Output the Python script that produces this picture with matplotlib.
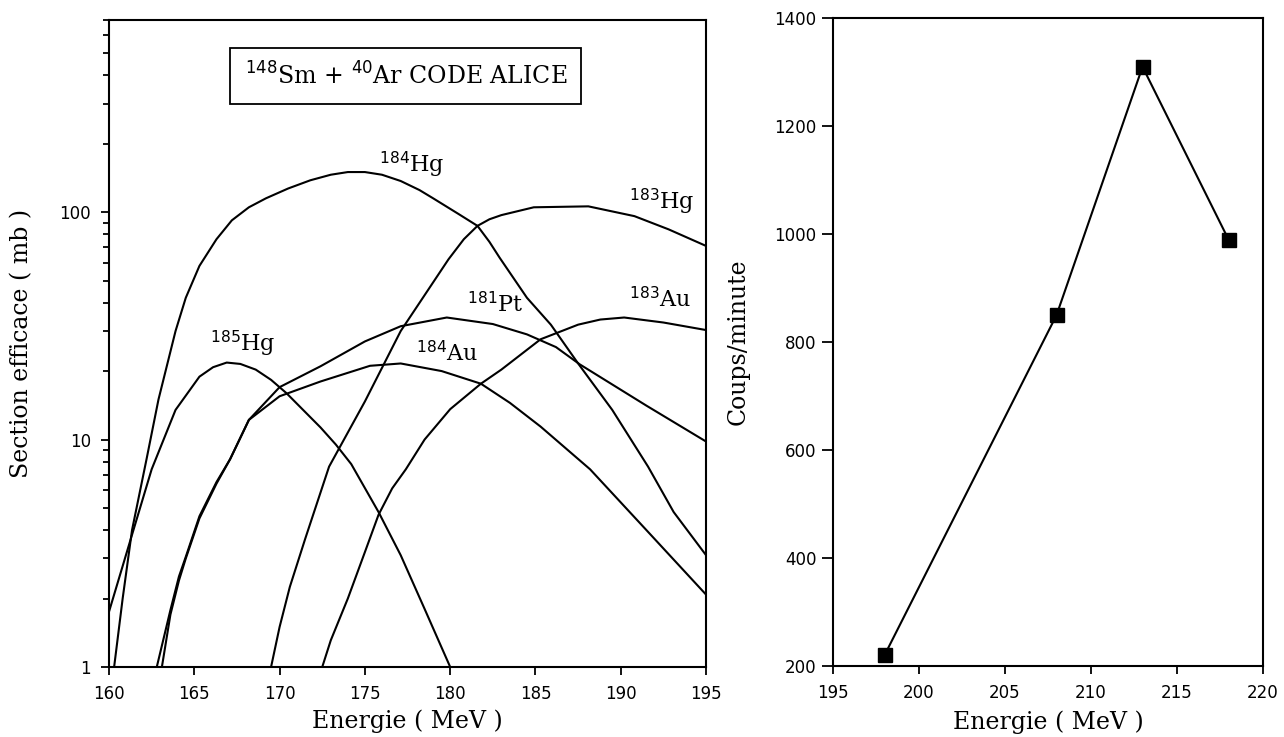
import matplotlib
matplotlib.use("Agg")
import matplotlib.pyplot as plt
from matplotlib.ticker import LogLocator, NullFormatter

# sections efficaces calculees (code ALICE)
e_184hg = [160.3, 160.8, 161.35, 162.2, 162.9, 163.9, 164.5, 165.3, 166.3, 167.2, 168.2, 169.2,
           170.5, 171.8, 173.0, 174.0, 175.0, 176.0, 177.1, 178.2, 179.0, 180.5, 181.6, 182.3,
           182.9, 184.5, 185.9, 187.5, 189.5, 191.6, 193.1, 195.0]
s_184hg = [1.0, 2.0, 4.0, 8.2, 15, 30, 42, 58, 76, 92, 105, 115,
           127, 138, 146, 150, 150, 146, 137, 125, 115, 98, 87, 74,
           63, 42, 32, 21.6, 13.5, 7.6, 4.8, 3.1]

e_185hg = [160.0, 161.2, 162.5, 163.9, 165.3, 166.1, 166.9, 167.7, 168.6, 169.5, 170.4, 172.4,
           173.3, 174.2, 175.8, 177.1, 178.5, 180.0]
s_185hg = [1.75, 3.5, 7.4, 13.5, 18.9, 20.8, 21.8, 21.5, 20.3, 18.3, 16, 11.3,
           9.5, 7.8, 4.8, 3.1, 1.8, 1.0]

e_184au = [162.8, 163.6, 164.1, 164.5, 165.3, 166.3, 167.1, 168.2, 170.0, 172.4, 175.3, 177.1,
           179.5, 181.8, 183.5, 185.3, 188.2, 191.5, 195.0]
s_184au = [1.0, 1.78, 2.5, 3.05, 4.6, 6.5, 8.2, 12.2, 15.5, 18, 21.1, 21.6,
           20, 17.6, 14.5, 11.4, 7.4, 4.0, 2.08]

e_181pt = [163.1, 163.6, 164.1, 164.5, 165.3, 166.3, 167.1, 168.2, 170.0, 172.4, 175.0, 177.1,
           179.8, 182.5, 184.5, 186.2, 187.6, 191.5, 195.0]
s_181pt = [1.0, 1.7, 2.4, 3.0, 4.5, 6.4, 8.2, 12.2, 17, 21, 27, 31.5,
           34.4, 32.2, 29, 25.5, 21.4, 14.1, 9.8]

e_183hg = [169.5, 170.0, 170.6, 171.5, 172.9, 175.0, 177.1, 179.9, 180.8, 181.6, 182.3, 183.0,
           184.9, 188.1, 190.8, 192.8, 195.0]
s_183hg = [1.0, 1.5, 2.25, 3.66, 7.6, 14.7, 30, 62, 76, 87, 93, 97,
           105, 106, 96, 84, 71]

e_183au = [172.5, 173.0, 174.0, 175.0, 175.8, 176.6, 177.4, 178.5, 180.0, 181.8, 183.0, 185.3,
           187.5, 188.8, 190.2, 192.5, 195.0]
s_183au = [1.0, 1.31, 2.0, 3.2, 4.67, 6.1, 7.4, 10, 13.6, 17.6, 20.3, 27.6,
           32, 33.7, 34.4, 32.7, 30.3]

# etiquettes des courbes (position du texte)
labels = [r"$^{184}$Hg", r"$^{183}$Hg", r"$^{181}$Pt", r"$^{183}$Au", r"$^{184}$Au", r"$^{185}$Hg"]
label_e = [175.85, 190.5, 181.0, 190.5, 178.0, 165.9]
label_s = [150, 103, 36.3, 38.3, 22.0, 24.4]

# mesures : coups/minute en fonction de l'energie
e_mes = [198, 208, 213, 218]
coups = [220, 850, 1310, 990]

serif = "DejaVu Serif"
lw = 1.5

fig = plt.figure(figsize=(12.84, 7.37), dpi=100)
ax1 = fig.add_axes([0.0849, 0.095, 0.465, 0.878])
ax2 = fig.add_axes([0.6487, 0.0963, 0.3349, 0.879])

# --- panneau gauche ---
for e, s in [(e_184hg, s_184hg), (e_185hg, s_185hg), (e_184au, s_184au),
             (e_181pt, s_181pt), (e_183hg, s_183hg), (e_183au, s_183au)]:
    ax1.plot(e, s, color="black", lw=lw)

ax1.set_yscale("log")
ax1.set_xlim(160, 195)
ax1.set_ylim(1, 700)
ax1.set_xticks([160, 165, 170, 175, 180, 185, 190, 195])
ax1.set_yticks([1, 10, 100])
ax1.set_yticklabels(["1", "10", "100"])
ax1.yaxis.set_minor_locator(LogLocator(base=10, subs=[2, 3, 4, 5, 6, 7, 8, 9]))
ax1.yaxis.set_minor_formatter(NullFormatter())
ax1.tick_params(axis="both", which="major", direction="out", length=6, width=1.3,
                labelsize=12, pad=7, top=False, right=False)
ax1.tick_params(axis="y", which="minor", direction="out", length=4, width=1.3, right=False)

for txt, x, y in zip(labels, label_e, label_s):
    ax1.text(x, y, txt, fontsize=16, family=serif, ha="left", va="baseline")

ax1.text(0.497, 0.913, r"$^{148}$Sm + $^{40}$Ar CODE ALICE", transform=ax1.transAxes,
         fontsize=17, family=serif, ha="center", va="center",
         bbox=dict(boxstyle="square,pad=0.6", fc="white", ec="black", lw=1.3))

ax1.set_xlabel("Energie ( MeV )", fontsize=17, family=serif)
ax1.set_ylabel("Section efficace ( mb )", fontsize=17, family=serif)
ax1.xaxis.set_label_coords(0.5, -0.066)
ax1.yaxis.set_label_coords(-0.127, 0.5)

# --- panneau droit ---
ax2.plot(e_mes, coups, color="black", lw=lw, marker="s", markersize=9.5,
         markerfacecolor="black", markeredgecolor="black", clip_on=False)
ax2.set_xlim(195, 220)
ax2.set_ylim(200, 1400)
ax2.set_xticks([195, 200, 205, 210, 215, 220])
ax2.set_yticks([200, 400, 600, 800, 1000, 1200, 1400])
ax2.tick_params(axis="x", direction="out", length=6, width=1.3, labelsize=12, pad=7, top=False)
ax2.tick_params(axis="y", direction="out", length=8, width=1.3, labelsize=12, pad=4, right=False)
ax2.set_xlabel("Energie ( MeV )", fontsize=17, family=serif)
ax2.set_ylabel("Coups/minute", fontsize=17, family=serif)
ax2.xaxis.set_label_coords(0.5, -0.068)
ax2.yaxis.set_label_coords(-0.193, 0.5)

for ax in (ax1, ax2):
    for sp in ax.spines.values():
        sp.set_linewidth(1.5)

fig.savefig("out.png", dpi=100)
